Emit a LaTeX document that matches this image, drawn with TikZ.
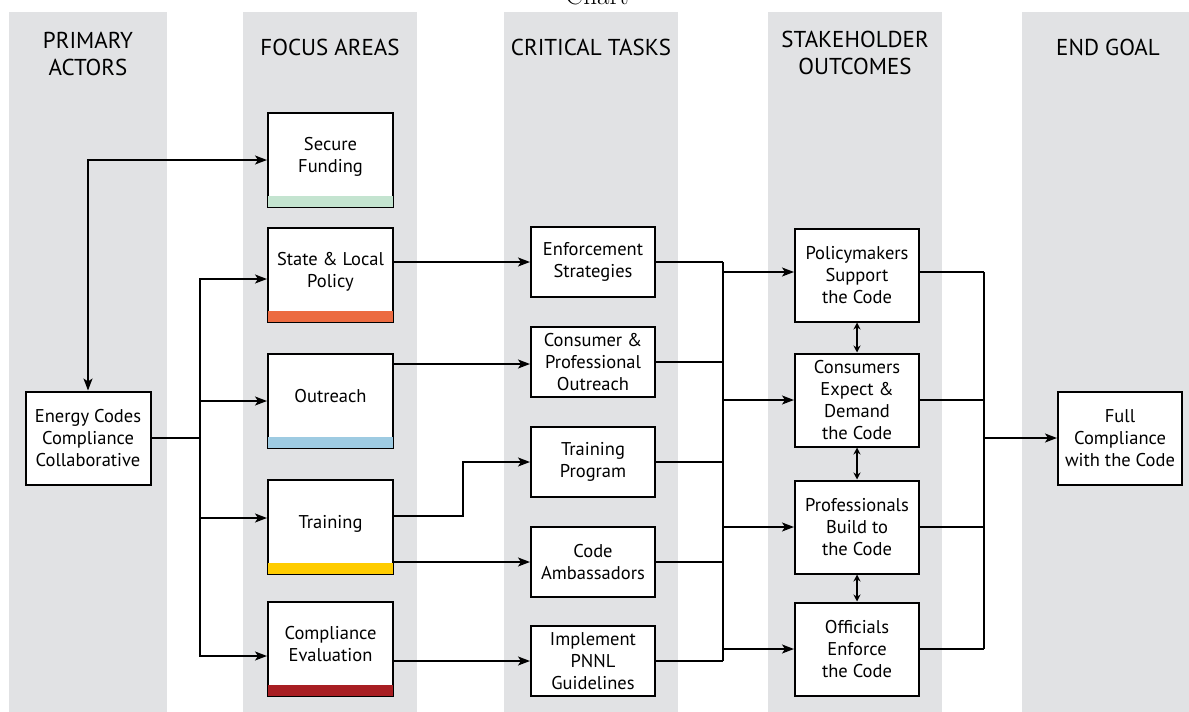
\documentclass[tikz,border=0pt]{standalone}
\usepackage{fontspec}
\setsansfont{PT Sans}
\usetikzlibrary{positioning,arrows.meta}

\definecolor{bandgray}{HTML}{E1E2E4}
\definecolor{fundgreen}{HTML}{C4E4D0}
\definecolor{policyorange}{HTML}{EC6B41}
\definecolor{reachblue}{HTML}{9ECBE2}
\definecolor{trainyellow}{HTML}{FFCC00}
\definecolor{evalred}{HTML}{A81E22}

\newcommand{\colorbar}[2]{%
  \fill[#2] ([xshift=1pt,yshift=1pt]#1.south west) rectangle ([xshift=-1pt,yshift=12.5pt]#1.south east);}

\begin{document}
\begin{tikzpicture}[x=1pt,y=-1pt]
\tikzset{
    every node/.style = {font=\sffamily\fontsize{18.5}{22}\selectfont, align=center},
    box/.style = {draw, rectangle, fill=white, line width=2pt, inner sep=2pt,
                  minimum width=125pt, minimum height=94pt},
    area/.style = {box, text depth=11pt},
    task/.style = {box, minimum width=124pt, minimum height=70pt},
    outcome/.style = {box, minimum width=124pt, minimum height=93pt},
    head/.style = {font=\sffamily\fontsize{23}{27}\selectfont, anchor=north, inner sep=0pt},
    band/.style = {fill=bandgray},
    link/.style = {line width=1.6pt, >={Stealth[length=12pt,width=9pt,inset=3pt]}},
    twoway/.style = {line width=1.6pt, {Stealth[length=7pt,width=7pt]}-{Stealth[length=7pt,width=7pt]}}
}
\useasboundingbox (0,0) rectangle (1189,712);

% -------------------------------------------------------
\fill[band] (9,12) rectangle (167,712);
\fill[band] (243,12) rectangle (417,712);
\fill[band] (504,12) rectangle (678,712);
\fill[band] (768,12) rectangle (942,712);
\fill[band] (1022,12) rectangle (1189,712);

\node[font=\rmfamily\fontsize{27}{27}\selectfont, anchor=base, inner sep=0pt] (title) at (597,5) {Chart};

\node[head] (actors) at (88,32) {PRIMARY\\ACTORS};
\node[head] (areas) at (330,39) {FOCUS AREAS};
\node[head] (tasks) at (591,39) {CRITICAL TASKS};
\node[head] (outcomes) at (855,31) {STAKEHOLDER\\OUTCOMES};
\node[head] (goal) at (1108,39) {END GOAL};

% -------------------------------------------------------
\node[box, minimum height=93pt] (eccc) at (88,438) {Energy Codes\\Compliance\\Collaborative};

\node[area] (sf) at (330.5,160) {Secure\\Funding};
\node[area] (sl) at (330.5,275) {State \& Local\\Policy};
\node[area] (or) at (330.5,401) {Outreach};
\node[area] (tr) at (330.5,527) {Training};
\node[area] (ce) at (330.5,649) {Compliance\\Evaluation};

\colorbar{sf}{fundgreen}
\colorbar{sl}{policyorange}
\colorbar{or}{reachblue}
\colorbar{tr}{trainyellow}
\colorbar{ce}{evalred}

\node[task] (es) at (593,262) {Enforcement\\Strategies};
\node[task] (cpo) at (593,362) {Consumer \&\\Professional\\Outreach};
\node[task] (tp) at (593,462) {Training\\Program};
\node[task] (ca) at (593,562) {Code\\Ambassadors};
\node[task] (ipg) at (593,661) {Implement\\PNNL\\Guidelines};

\node[outcome] (pm) at (857,275) {Policymakers\\Support\\the Code};
\node[outcome] (ced) at (857,400) {Consumers\\Expect \&\\Demand\\the Code};
\node[outcome] (pb) at (857,527) {Professionals\\Build to\\the Code};
\node[outcome] (oe) at (857,649) {Officials\\Enforce\\the Code};

\node[outcome] (fc) at (1120,438) {Full\\Compliance\\with the Code};

\coordinate (split) at (200,438);
\coordinate (bus1) at (723,0);
\coordinate (bus2) at (984,0);

% -------------------------------------------------------
\path[link, <->] (eccc.north) edge[to path={|- (\tikztotarget)}] (sf.west);

\draw[link] (eccc.east) -- (split);
\draw[link] (split |- 279,0) -- (split |- 656,0);
\draw[link, ->] (split) |- ([yshift=-4pt]sl.west);
\draw[link, ->] (split) |- (or.west);
\draw[link, ->] (split) |- ([yshift=9pt]tr.west);
\draw[link, ->] (split) |- ([yshift=-7pt]ce.west);

\draw[link, ->] (sl.east |- es.west) -- (es.west);
\draw[link, ->] (or.east |- 0,364) -- (cpo.west |- 0,364);
\draw[link, ->] ([yshift=11pt]tr.east) -- ++(69,0) |- (tp.west);
\draw[link, ->] (tr.east |- ca.west) -- (ca.west);
\draw[link, ->] (ce.east |- ipg.west) -- (ipg.west);

\foreach \n in {es,cpo,tp,ca,ipg}
    \draw[link] (\n.east) -- (\n.east -| bus1);
\draw[link] (bus1 |- es.east) -- (bus1 |- ipg.east);
\draw[link, ->] (bus1 |- 0,272) -- (pm.west |- 0,272);
\draw[link, ->] (bus1 |- ced.west) -- (ced.west);
\draw[link, ->] (bus1 |- pb.west) -- (pb.west);
\draw[link, ->] (bus1 |- oe.west) -- (oe.west);

\draw[link] (pm.east |- 0,272) -- (bus2 |- 0,272);
\foreach \n in {ced,pb,oe}
    \draw[link] (\n.east) -- (\n.east -| bus2);
\draw[link] (bus2 |- 0,272) -- (bus2 |- oe.east);
\draw[link, ->] (bus2 |- fc.west) -- (fc.west);

\draw[twoway] (pm.south) -- (ced.north);
\draw[twoway] (ced.south) -- (pb.north);
\draw[twoway] (pb.south) -- (oe.north);
\end{tikzpicture}
\end{document}
